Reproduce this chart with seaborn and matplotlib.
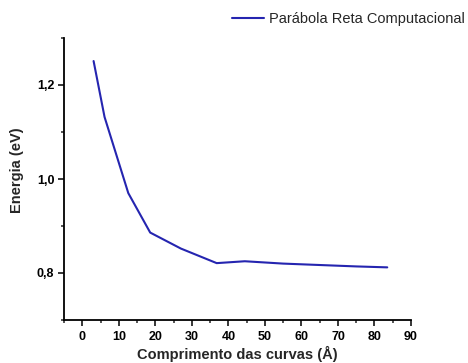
import numpy as np
import pandas as pd
import seaborn as sns
import matplotlib
matplotlib.use("Agg")
import matplotlib.pyplot as plt
from matplotlib.ticker import MultipleLocator, FuncFormatter

comprimento = [3.1, 6.1, 12.6, 18.6, 27.0, 36.8, 44.5, 55.0, 65.0, 75.0, 83.5]
energia = [1.251, 1.132, 0.970, 0.886, 0.852, 0.821, 0.825, 0.820, 0.817, 0.814, 0.812]
serie = "Parábola Reta Computacional"

df = pd.DataFrame({"x": comprimento, "y": energia, "s": serie})

sns.set_style("ticks")
plt.rcParams["font.family"] = ["Liberation Sans", "DejaVu Sans"]

fig = plt.figure(figsize=(4.68, 3.63), dpi=100)
ax = fig.add_axes([64/468, 1-320/363, (411-64)/468, (320-38)/363])

sns.lineplot(data=df, x="x", y="y", hue="s", palette=["#2525b0"], lw=1.5, ax=ax)

ax.set_xlim(-5, 90)
ax.set_ylim(0.7, 1.3)
ax.xaxis.set_major_locator(MultipleLocator(10))
ax.xaxis.set_minor_locator(MultipleLocator(5))
ax.yaxis.set_major_locator(MultipleLocator(0.2))
ax.yaxis.set_minor_locator(MultipleLocator(0.1))
ax.yaxis.set_major_formatter(FuncFormatter(lambda v, p: f"{v:.1f}".replace(".", ",")))

for s in ["top", "right"]:
    ax.spines[s].set_visible(False)
for s in ["left", "bottom"]:
    ax.spines[s].set_linewidth(1.3)
    ax.spines[s].set_color("black")

ax.tick_params(axis="both", which="major", direction="out", length=4, width=1.1,
               labelsize=9, colors="black", pad=3)
ax.tick_params(axis="x", which="major", pad=4)
ax.tick_params(axis="both", which="minor", direction="out", length=2.5, width=1.1)
for lbl in ax.get_xticklabels() + ax.get_yticklabels():
    lbl.set_fontweight("bold")

ax.set_xlabel("Comprimento das curvas (Å)", fontsize=10.5, fontweight="bold")
ax.set_ylabel("Energia (eV)", fontsize=10.5, fontweight="bold")
ax.xaxis.set_label_coords(0.5, -(359-320)/282)
ax.xaxis.label.set_va("baseline")
ax.yaxis.set_label_coords((24-64)/347, (320-170)/282)

leg = ax.legend(loc="center left", bbox_to_anchor=(232/468, 1-19/363), bbox_transform=fig.transFigure,
                frameon=False, fontsize=10.5, handlelength=2.2, handletextpad=0.35,
                borderaxespad=0, borderpad=0)

fig.savefig("out.png", dpi=100)
